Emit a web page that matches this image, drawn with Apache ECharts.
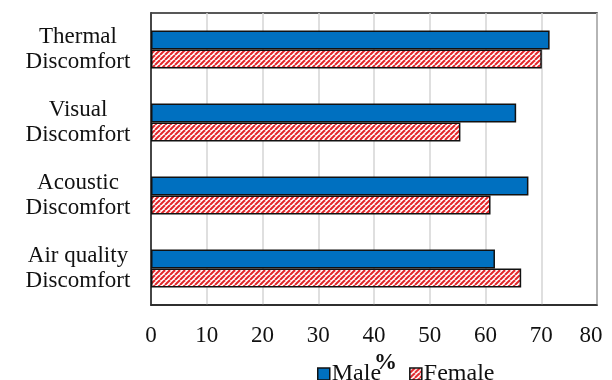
<!DOCTYPE html>
<html>
<head>
<meta charset="utf-8">
<script src="https://cdn.jsdelivr.net/npm/echarts@6/dist/echarts.min.js"></script>
<style>
  html, body { margin: 0; padding: 0; background: #fff; }
  #chart { width: 612px; height: 380px; }
</style>
</head>
<body>
<div id="chart"></div>
<script>
// Discomfort categories and the share (%) reported by each group
const categories = ['Thermal\nDiscomfort', 'Visual\nDiscomfort', 'Acoustic\nDiscomfort', 'Air quality\nDiscomfort'];
const maleValues = [71.5, 65.5, 67.7, 61.7];
const femaleValues = [70.1, 55.5, 60.9, 66.4];
const xTicks = [0, 10, 20, 30, 40, 50, 60, 70, 80];

// Red diagonal hatch tile for the Female bars
function hatchTile() {
  const s = 5;
  const c = document.createElement('canvas');
  c.width = s; c.height = s;
  const ctx = c.getContext('2d');
  ctx.fillStyle = '#ffffff';
  ctx.fillRect(0, 0, s, s);
  ctx.strokeStyle = '#e3262a';
  ctx.lineWidth = 2;
  for (let k = -s; k <= s; k += s) {
    ctx.beginPath();
    ctx.moveTo(k, s);
    ctx.lineTo(k + s, 0);
    ctx.stroke();
  }
  return c;
}

const font = 'Liberation Serif';
const lastTick = xTicks[xTicks.length - 1];
const chart = echarts.init(document.getElementById('chart'), null, { renderer: 'canvas' });

chart.setOption({
  animation: false,
  backgroundColor: '#ffffff',
  grid: {
    left: 151, right: 15, top: 13, bottom: 74,
    show: true, borderColor: '#222', borderWidth: 1.5
  },
  legend: {
    data: ['Male', 'Female'],
    left: 312, top: 357,
    itemWidth: 12, itemHeight: 12, itemGap: 28,
    icon: 'rect',
    textStyle: { fontFamily: font, fontSize: 24, color: '#111', padding: [0, 0, 0, -3] },
    itemStyle: { borderColor: '#111', borderWidth: 1.5 }
  },
  xAxis: {
    type: 'value',
    min: xTicks[0], max: lastTick, interval: 10,
    name: '%', nameLocation: 'middle', nameGap: 37,
    nameTextStyle: { fontFamily: font, fontSize: 23, fontWeight: 'bold', color: '#111', padding: [0, 0, 0, 23] },
    axisLine: { show: true, lineStyle: { color: '#222', width: 1.5 } },
    axisTick: { show: false },
    axisLabel: {
      fontFamily: font, fontSize: 23, color: '#111', margin: 19,
      formatter: v => (v === lastTick ? '{end|' + v + '}' : String(v)),
      rich: { end: { fontFamily: font, fontSize: 23, color: '#111', padding: [0, 12, 0, 0] } }
    },
    splitLine: { show: true, lineStyle: { color: '#d4d4d4', width: 1.5 } }
  },
  yAxis: {
    type: 'category',
    data: categories,
    inverse: true,
    axisLine: { show: true, lineStyle: { color: '#222', width: 1.5 } },
    axisTick: { show: false },
    axisLabel: {
      fontFamily: font, fontSize: 23, color: '#111',
      align: 'center', margin: 73, lineHeight: 25
    }
  },
  series: [
    {
      name: 'Male', type: 'bar', data: maleValues,
      barWidth: 19, barGap: '0%',
      itemStyle: { color: '#0070c0', borderColor: '#111', borderWidth: 1.5 }
    },
    {
      name: 'Female', type: 'bar', data: femaleValues,
      barWidth: 19, barGap: '0%',
      itemStyle: {
        color: { image: hatchTile(), repeat: 'repeat' },
        borderColor: '#111', borderWidth: 1.5
      }
    }
  ]
});
</script>
</body>
</html>
